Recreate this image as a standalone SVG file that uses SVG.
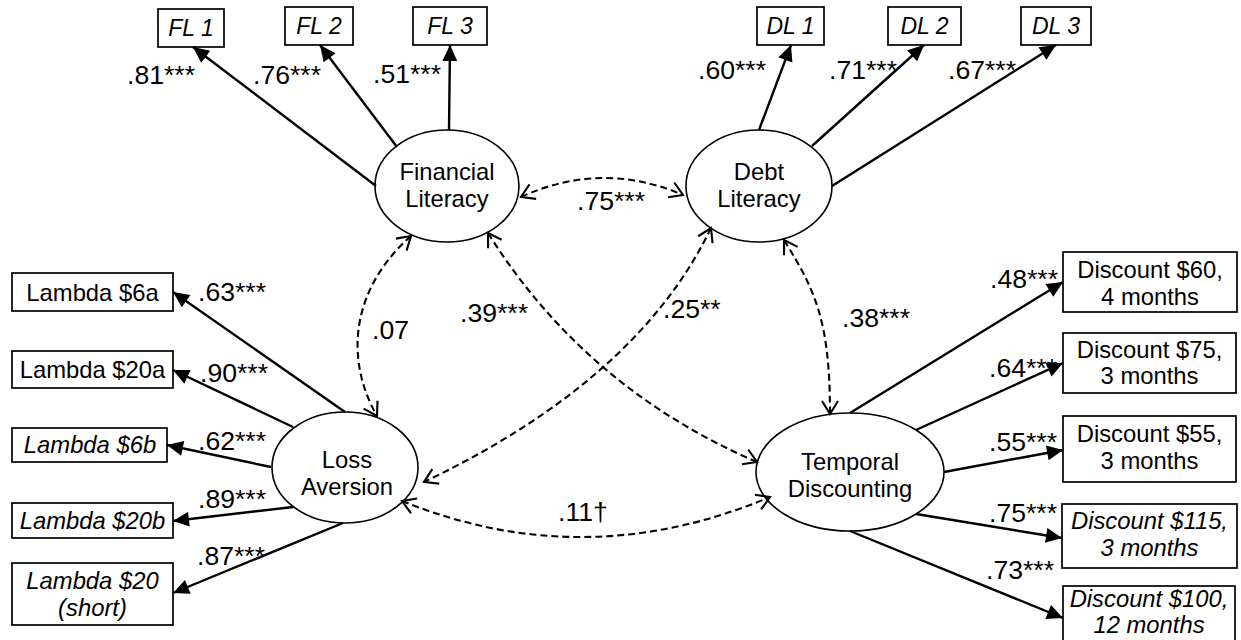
<svg xmlns="http://www.w3.org/2000/svg" width="1241" height="640" viewBox="0 0 1241 640">
<style>
.box{fill:#fff;stroke:#000;stroke-width:1.7}
.lat{fill:#fff;stroke:#000;stroke-width:1.6}
text{font-family:"Liberation Sans",Arial,sans-serif;fill:#000}
.t{font-size:23.8px;text-anchor:middle}
.tt{font-size:23px;text-anchor:middle;font-style:italic}
.it{font-style:italic}
.lbl{font-size:26.6px}
.sol{stroke:#000;stroke-width:2.4;fill:none;marker-end:url(#ah)}
.dash{stroke:#000;stroke-width:2.1;fill:none;stroke-dasharray:7 4;marker-start:url(#oh);marker-end:url(#oh)}
</style>
<defs>
<marker id="ah" markerUnits="userSpaceOnUse" markerWidth="17" markerHeight="16" refX="16" refY="7.5" orient="auto" overflow="visible">
<path d="M0,0 L16,7.5 L0,15 z" fill="#000" stroke="none"/>
</marker>
<marker id="oh" markerUnits="userSpaceOnUse" markerWidth="16" markerHeight="18" refX="14" refY="8" orient="auto-start-reverse" overflow="visible">
<path d="M1,0 L14,8 L1,16" fill="none" stroke="#000" stroke-width="2.1" stroke-dasharray="none"/>
</marker>
</defs>

<g id="FL1"><rect class="box" x="158" y="9" width="66" height="38"/><text class="tt" x="191" y="36">FL 1</text></g>
<g id="FL2"><rect class="box" x="285" y="7" width="68" height="38"/><text class="tt" x="319" y="34">FL 2</text></g>
<g id="FL3"><rect class="box" x="413" y="7" width="74" height="38"/><text class="tt" x="450" y="34">FL 3</text></g>
<g id="DL1"><rect class="box" x="757" y="7" width="67" height="38"/><text class="tt" x="790.5" y="34">DL 1</text></g>
<g id="DL2"><rect class="box" x="888" y="7" width="73" height="38"/><text class="tt" x="924.5" y="34">DL 2</text></g>
<g id="DL3"><rect class="box" x="1021" y="7" width="70" height="38"/><text class="tt" x="1056" y="34">DL 3</text></g>

<g id="FinancialLiteracy"><ellipse class="lat" cx="447" cy="186" rx="72" ry="56"/><text class="t" x="447" y="180">Financial</text><text class="t" x="447" y="207">Literacy</text></g>
<g id="DebtLiteracy"><ellipse class="lat" cx="759" cy="186" rx="73" ry="56"/><text class="t" x="759" y="180">Debt</text><text class="t" x="759" y="207">Literacy</text></g>
<g id="LossAversion"><ellipse class="lat" cx="345" cy="467.5" rx="73" ry="55.5"/><text class="t" x="347" y="468">Loss</text><text class="t" x="347" y="495">Aversion</text></g>
<g id="TemporalDiscounting"><ellipse class="lat" cx="850" cy="472" rx="94" ry="59"/><text class="t" x="850" y="470">Temporal</text><text class="t" x="850" y="497">Discounting</text></g>

<g id="L6a"><rect class="box" x="12" y="273" width="161" height="38"/><text class="t" x="92.5" y="301">Lambda $6a</text></g>
<g id="L20a"><rect class="box" x="12" y="351" width="161" height="37"/><text class="t" x="92.5" y="378">Lambda $20a</text></g>
<g id="L6b"><rect class="box" x="12" y="428" width="155" height="34"/><text class="t it" x="90" y="453">Lambda $6b</text></g>
<g id="L20b"><rect class="box" x="12" y="503" width="161" height="35"/><text class="t it" x="92.5" y="528.5">Lambda $20b</text></g>
<g id="L20s"><rect class="box" x="12" y="563" width="161" height="62"/><text class="t it" x="92.5" y="589">Lambda $20</text><text class="t it" x="92.5" y="616">(short)</text></g>

<g id="D60"><rect class="box" x="1063" y="252" width="174" height="60"/><text class="t" x="1150" y="278">Discount $60,</text><text class="t" x="1150" y="305">4 months</text></g>
<g id="D75"><rect class="box" x="1063" y="333" width="173" height="60"/><text class="t" x="1149.5" y="357.5">Discount $75,</text><text class="t" x="1149.5" y="384">3 months</text></g>
<g id="D55"><rect class="box" x="1063" y="416" width="173" height="66"/><text class="t" x="1149.5" y="441.5">Discount $55,</text><text class="t" x="1149.5" y="468.5">3 months</text></g>
<g id="D115"><rect class="box" x="1062" y="504" width="175" height="64"/><text class="t it" x="1149.5" y="529">Discount $115,</text><text class="t it" x="1149.5" y="556">3 months</text></g>
<g id="D100"><rect class="box" x="1063" y="586" width="172" height="60"/><text class="t it" x="1149" y="607">Discount $100,</text><text class="t it" x="1149" y="633">12 months</text></g>

<g id="connectors">
<line class="sol" x1="376" y1="186" x2="193" y2="47"/>
<line class="sol" x1="397" y1="147" x2="320" y2="45"/>
<line class="sol" x1="449" y1="130" x2="450" y2="45"/>
<line class="sol" x1="759" y1="130" x2="791" y2="45"/>
<line class="sol" x1="812" y1="146" x2="924" y2="45"/>
<line class="sol" x1="832" y1="186" x2="1056" y2="45"/>
<line class="sol" x1="345" y1="412" x2="173" y2="292"/>
<line class="sol" x1="293" y1="427" x2="173" y2="370"/>
<line class="sol" x1="271" y1="467" x2="167" y2="445"/>
<line class="sol" x1="293" y1="507" x2="173" y2="521"/>
<line class="sol" x1="343" y1="523" x2="173" y2="593"/>
<line class="sol" x1="850" y1="413" x2="1063" y2="282"/>
<line class="sol" x1="916" y1="430" x2="1063" y2="363"/>
<line class="sol" x1="944" y1="472" x2="1063" y2="450"/>
<line class="sol" x1="916" y1="514" x2="1062" y2="538"/>
<line class="sol" x1="850" y1="531" x2="1063" y2="618"/>
<path class="dash" d="M521,197 Q602,160 683,195"/>
<path class="dash" d="M411,236 C350,290 345,360 377,416"/>
<path class="dash" d="M488,233 Q585,388 757,462"/>
<path class="dash" d="M711,228 Q638,380 424,482"/>
<path class="dash" d="M784,240 C815,290 830,320 830,414"/>
<path class="dash" d="M402,501 Q585,575 770,497"/>
</g>

<g id="labels">
<text class="lbl" x="127" y="84">.81***</text>
<text class="lbl" x="253" y="84">.76***</text>
<text class="lbl" x="373" y="83">.51***</text>
<text class="lbl" x="698" y="79">.60***</text>
<text class="lbl" x="829" y="79">.71***</text>
<text class="lbl" x="948" y="79">.67***</text>
<text class="lbl" x="577" y="210">.75***</text>
<text class="lbl" x="372" y="339">.07</text>
<text class="lbl" x="460" y="322">.39***</text>
<text class="lbl" x="663" y="318">.25**</text>
<text class="lbl" x="842" y="327">.38***</text>
<text class="lbl" x="558" y="521">.11†</text>
<text class="lbl" x="198" y="301">.63***</text>
<text class="lbl" x="200" y="382">.90***</text>
<text class="lbl" x="198" y="450">.62***</text>
<text class="lbl" x="198" y="508">.89***</text>
<text class="lbl" x="197" y="565">.87***</text>
<text class="lbl" x="990" y="288">.48***</text>
<text class="lbl" x="989" y="377">.64***</text>
<text class="lbl" x="989" y="451">.55***</text>
<text class="lbl" x="989" y="522">.75***</text>
<text class="lbl" x="986" y="579">.73***</text>
</g>
</svg>
